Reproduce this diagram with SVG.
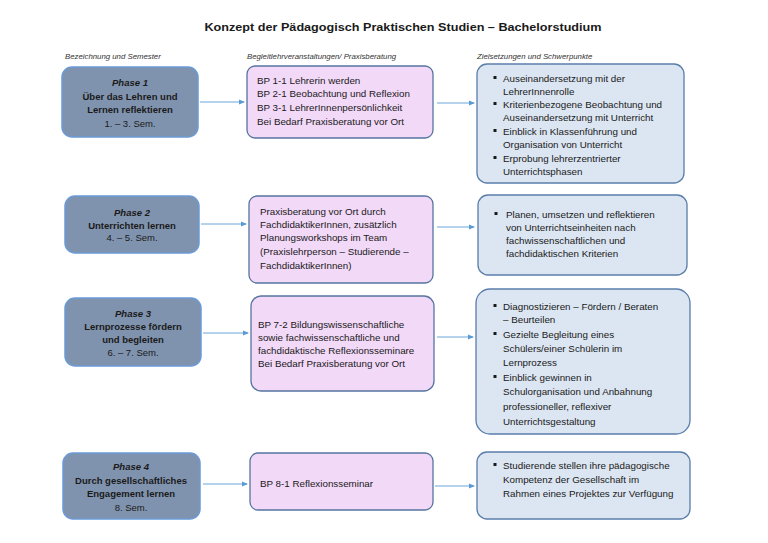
<svg xmlns="http://www.w3.org/2000/svg" width="768" height="543" viewBox="0 0 768 543">
<style>
text{font-family:"Liberation Sans",Arial,sans-serif;fill:#1a1a1a}
.title{font-size:11.5px;font-weight:bold}
.hdr{font-size:7.8px;font-style:italic;fill:#333}
.ph{fill:#8093AE;stroke:#6A9AD6;stroke-width:1.5}
.bp{fill:#F3D9F8;stroke:#56749F;stroke-width:1.3}
.zi{fill:#DCE6F2;stroke:#5A7DAA;stroke-width:1.3}
.pt{font-size:9.5px;text-anchor:middle}
.b{font-weight:bold}
.bi{font-weight:bold;font-style:italic}
.t{font-size:9.8px}
.bul{fill:#1a1a1a}
.con{stroke:#5B9BD5;stroke-width:0.9;fill:none;marker-end:url(#ah)}
</style>
<defs>
<marker id="ah" viewBox="0 0 6 6" refX="5" refY="3" markerWidth="6" markerHeight="6" markerUnits="userSpaceOnUse" orient="auto">
<path d="M0,0.5 L6,3 L0,5.5 Z" fill="#5B9BD5"/>
</marker>
</defs>
<rect width="768" height="543" fill="#ffffff"/>
<text class="title" x="403" y="31" text-anchor="middle" textLength="397" lengthAdjust="spacingAndGlyphs">Konzept der Pädagogisch Praktischen Studien – Bachelorstudium</text>
<text class="hdr" x="65" y="59">Bezeichnung und Semester</text>
<text class="hdr" x="247" y="59">Begleitlehrveranstaltungen/ Praxisberatung</text>
<text class="hdr" x="477" y="59">Zielsetzungen und Schwerpunkte</text>

<g id="connectors">
<line class="con" x1="200" y1="102" x2="244" y2="102"/>
<line class="con" x1="437" y1="103" x2="474" y2="103"/>
<line class="con" x1="201" y1="224" x2="246" y2="224"/>
<line class="con" x1="437" y1="227" x2="474" y2="227"/>
<line class="con" x1="203" y1="333" x2="248" y2="333"/>
<line class="con" x1="437" y1="337" x2="473" y2="337"/>
<line class="con" x1="203" y1="484" x2="247" y2="484"/>
<line class="con" x1="435" y1="486" x2="474" y2="486"/>
</g>

<g id="phase1">
<rect class="ph" x="62" y="67" width="136" height="70" rx="10"/>
<text class="pt bi" x="130" y="86">Phase 1</text>
<text class="pt b" x="130" y="99.5">Über das Lehren und</text>
<text class="pt b" x="130" y="112.5">Lernen reflektieren</text>
<text class="pt" x="130" y="126.5">1. – 3. Sem.</text>
</g>
<g id="bp1">
<rect class="bp" x="247" y="66" width="186" height="72" rx="8"/>
<text class="t" x="257" y="83.5">BP 1-1  Lehrerin werden</text>
<text class="t" x="257" y="96.5">BP 2-1 Beobachtung und Reflexion</text>
<text class="t" x="257" y="110.5">BP 3-1  LehrerInnenpersönlichkeit</text>
<text class="t" x="257" y="124.5">Bei Bedarf Praxisberatung vor Ort</text>
</g>
<g id="ziel1">
<rect class="zi" x="477" y="64" width="207" height="119" rx="10"/>
<rect class="bul" x="493.5" y="76" width="3" height="3"/>
<rect class="bul" x="493.5" y="102" width="3" height="3"/>
<rect class="bul" x="493.5" y="129" width="3" height="3"/>
<rect class="bul" x="493.5" y="156" width="3" height="3"/>
<text class="t" x="503" y="81.5">Auseinandersetzung mit der</text>
<text class="t" x="503" y="94.5">LehrerInnenrolle</text>
<text class="t" x="503" y="107.5">Kriterienbezogene Beobachtung und</text>
<text class="t" x="503" y="120.5">Auseinandersetzung mit Unterricht</text>
<text class="t" x="503" y="134.5">Einblick in Klassenführung und</text>
<text class="t" x="503" y="147.5">Organisation von Unterricht</text>
<text class="t" x="503" y="161.5">Erprobung lehrerzentrierter</text>
<text class="t" x="503" y="174.5">Unterrichtsphasen</text>
</g>

<g id="phase2">
<rect class="ph" x="65" y="196" width="134" height="57" rx="10"/>
<text class="pt bi" x="132" y="215.5">Phase 2</text>
<text class="pt b" x="132" y="228.5">Unterrichten lernen</text>
<text class="pt" x="132" y="241">4. – 5. Sem.</text>
</g>
<g id="bp2">
<rect class="bp" x="249" y="196" width="184" height="87" rx="8"/>
<text class="t" x="260" y="214.5">Praxisberatung vor Ort durch</text>
<text class="t" x="260" y="227.5">FachdidaktikerInnen, zusätzlich</text>
<text class="t" x="260" y="240.5">Planungsworkshops im Team</text>
<text class="t" x="260" y="254.5">(Praxislehrperson – Studierende –</text>
<text class="t" x="260" y="268.5">FachdidaktikerInnen)</text>
</g>
<g id="ziel2">
<rect class="zi" x="478" y="195" width="209" height="80" rx="10"/>
<rect class="bul" x="494.5" y="212" width="3" height="3"/>
<text class="t" x="506" y="217.5">Planen, umsetzen und reflektieren</text>
<text class="t" x="506" y="230.5">von Unterrichtseinheiten nach</text>
<text class="t" x="506" y="243.5">fachwissenschaftlichen und</text>
<text class="t" x="506" y="256.5">fachdidaktischen Kriterien</text>
</g>

<g id="phase3">
<rect class="ph" x="65" y="298" width="136" height="68" rx="10"/>
<text class="pt bi" x="133" y="316.5">Phase 3</text>
<text class="pt b" x="133" y="329.5">Lernprozesse fördern</text>
<text class="pt b" x="133" y="342.5">und begleiten</text>
<text class="pt" x="133" y="355.5">6. – 7. Sem.</text>
</g>
<g id="bp3">
<rect class="bp" x="251" y="296" width="183" height="95" rx="10"/>
<text class="t" x="258" y="327.5">BP 7-2 Bildungswissenschaftliche</text>
<text class="t" x="258" y="340.5">sowie fachwissenschaftliche und</text>
<text class="t" x="258" y="353.5">fachdidaktische Reflexionsseminare</text>
<text class="t" x="258" y="366.5">Bei Bedarf Praxisberatung vor Ort</text>
</g>
<g id="ziel3">
<rect class="zi" x="476" y="289" width="214" height="145" rx="14"/>
<rect class="bul" x="493.5" y="304" width="3" height="3"/>
<rect class="bul" x="493.5" y="332" width="3" height="3"/>
<rect class="bul" x="493.5" y="375" width="3" height="3"/>
<text class="t" x="503" y="309.5">Diagnostizieren – Fördern / Beraten</text>
<text class="t" x="503" y="323">– Beurteilen</text>
<text class="t" x="503" y="337.5">Gezielte Begleitung eines</text>
<text class="t" x="503" y="352">Schülers/einer Schülerin im</text>
<text class="t" x="503" y="366">Lernprozess</text>
<text class="t" x="503" y="380.5">Einblick gewinnen in</text>
<text class="t" x="503" y="395">Schulorganisation und Anbahnung</text>
<text class="t" x="503" y="409.5">professioneller, reflexiver</text>
<text class="t" x="503" y="424.5">Unterrichtsgestaltung</text>
</g>

<g id="phase4">
<rect class="ph" x="63" y="453" width="137" height="66" rx="10"/>
<text class="pt bi" x="131" y="469.5">Phase 4</text>
<text class="pt b" x="131" y="483.5">Durch gesellschaftliches</text>
<text class="pt b" x="131" y="496.5">Engagement lernen</text>
<text class="pt" x="131" y="510.5">8. Sem.</text>
</g>
<g id="bp4">
<rect class="bp" x="250" y="453" width="183" height="57" rx="8"/>
<text class="t" x="260" y="486.5">BP 8-1 Reflexionsseminar</text>
</g>
<g id="ziel4">
<rect class="zi" x="477" y="452" width="213" height="67" rx="10"/>
<rect class="bul" x="493.5" y="463" width="3" height="3"/>
<text class="t" x="503" y="468.5">Studierende stellen ihre pädagogische</text>
<text class="t" x="503" y="482.5">Kompetenz der Gesellschaft im</text>
<text class="t" x="503" y="496.5">Rahmen eines Projektes zur Verfügung</text>
</g>
</svg>
